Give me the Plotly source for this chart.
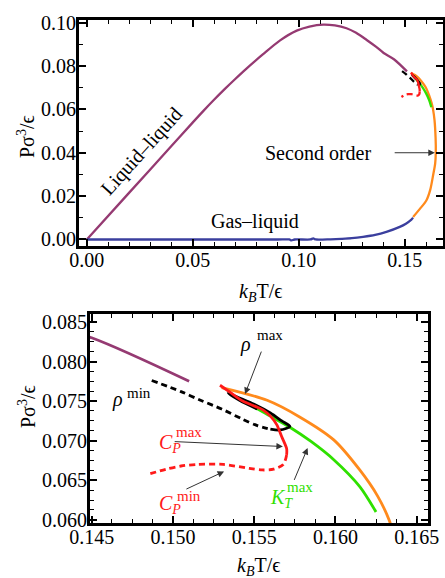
import plotly.graph_objects as go

# ---------------- data ----------------
ll_T = [0, 0.02, 0.04, 0.05, 0.055, 0.060, 0.065, 0.070, 0.0753, 0.083, 0.091, 0.099, 0.105,
        0.1115, 0.117, 0.1225, 0.127, 0.132, 0.1365, 0.140, 0.145, 0.151]
ll_P = [0, 0.0216, 0.0432, 0.0540, 0.0593, 0.0644, 0.0693, 0.0740, 0.0788, 0.0853, 0.0917, 0.0963, 0.0982,
        0.0991, 0.0987, 0.0974, 0.0953, 0.0920, 0.0888, 0.0860, 0.0830, 0.0775]

gl_T = [0, 0.05, 0.09, 0.0955, 0.0965, 0.098, 0.1055, 0.1068, 0.108, 0.115, 0.12, 0.125,
        0.1303, 0.136, 0.1413, 0.1476, 0.1505, 0.1531, 0.1539]
gl_P = [0, 0, 0, 0, -0.0004, 0, 0, 0.0005, 0, 0.0001, 0.0003, 0.0006,
        0.0012, 0.0021, 0.0035, 0.0058, 0.0073, 0.0092, 0.0100]

so_T = [0.1539, 0.1570, 0.1602, 0.1620, 0.1634, 0.1643, 0.1646, 0.1645, 0.1640, 0.1633,
        0.1626, 0.1615, 0.1599, 0.1578, 0.1558, 0.1530]
so_P = [0.0104, 0.0140, 0.0181, 0.0230, 0.0300, 0.0350, 0.0400, 0.0470, 0.0550, 0.0600,
        0.0630, 0.0663, 0.0701, 0.0730, 0.0751, 0.0767]

kt_T = [0.1537, 0.1548, 0.1560, 0.1572, 0.1585, 0.1599, 0.1615, 0.1625]
kt_P = [0.0757, 0.0745, 0.0731, 0.0717, 0.0699, 0.0676, 0.0642, 0.0610]

rmin_T = [0.1487, 0.1505, 0.1517, 0.1530, 0.1543, 0.1552, 0.1560]
rmin_P = [0.0776, 0.0762, 0.0751, 0.0740, 0.0727, 0.0719, 0.07145]

rmax_T = [0.1560, 0.1566, 0.1572, 0.1567, 0.1560, 0.1550, 0.1541, 0.1534, 0.1541, 0.1552]
rmax_P = [0.07145, 0.07135, 0.0718, 0.0725, 0.0735, 0.0746, 0.0754, 0.0760, 0.0751, 0.0740]

cpmax_T = [0.1529, 0.1536, 0.1543, 0.1551, 0.1556, 0.1560, 0.1564, 0.1567, 0.1570, 0.1570]
cpmax_P = [0.0770, 0.0760, 0.0750, 0.0743, 0.0738, 0.0731, 0.0720, 0.0705, 0.0690, 0.0682]

cpmin_T = [0.1570, 0.1568, 0.1562, 0.1555, 0.1547, 0.1531, 0.1515, 0.1505, 0.1496, 0.1484]
cpmin_P = [0.0682, 0.0670, 0.0664, 0.0663, 0.0665, 0.0670, 0.0670, 0.0668, 0.0664, 0.0657]

top_xticks = [0, 0.05, 0.10, 0.15]
top_xlabels = ["0.00", "0.05", "0.10", "0.15"]
top_yticks = [0, 0.02, 0.04, 0.06, 0.08, 0.10]
top_ylabels = ["0.00", "0.02", "0.04", "0.06", "0.08", "0.10"]
bot_xticks = [0.145, 0.150, 0.155, 0.160, 0.165]
bot_xlabels = ["0.145", "0.150", "0.155", "0.160", "0.165"]
bot_yticks = [0.060, 0.065, 0.070, 0.075, 0.080, 0.085]
bot_ylabels = ["0.060", "0.065", "0.070", "0.075", "0.080", "0.085"]

PURPLE = "#953a72"
BLUE = "#3b3f9e"
ORANGE = "#ff8a1c"
GREEN = "#2fe000"
RED = "#ff1a1a"
BLACK = "#000000"
FONT = "Liberation Serif"

fig = go.Figure()

def add_curves(xa, ya, w):
    spec = [
        (ll_T, ll_P, PURPLE, "solid"),
        (gl_T, gl_P, BLUE, "solid"),
        (so_T, so_P, ORANGE, "solid"),
        (kt_T, kt_P, GREEN, "solid"),
        (rmin_T, rmin_P, BLACK, "6px,4px"),
        (rmax_T, rmax_P, BLACK, "solid"),
        (cpmax_T, cpmax_P, RED, "solid"),
        (cpmin_T, cpmin_P, RED, "6px,4px"),
    ]
    for t, p, c, d in spec:
        fig.add_trace(go.Scatter(x=t, y=p, mode="lines", xaxis=xa, yaxis=ya,
                                 line=dict(color=c, width=w, dash=d, shape="spline",
                                           smoothing=0.8),
                                 showlegend=False, hoverinfo="skip"))

add_curves("x", "y", 2.3)
add_curves("x2", "y2", 2.8)

W, H = 445, 578

def ax_common(tv, tt, minor_dt, minor_t0, standoff):
    return dict(
        tickvals=tv, ticktext=tt, ticks="inside", ticklen=7, tickwidth=1.5,
        tickcolor="black", showline=True, linecolor="black", linewidth=3,
        mirror="allticks", showgrid=False, zeroline=False, automargin=False,
        ticklabelstandoff=standoff,
        tickfont=dict(family=FONT, size=20, color="black"),
        minor=dict(dtick=minor_dt, tick0=minor_t0, ticks="inside", ticklen=4,
                   tickwidth=1.2, tickcolor="black", showgrid=False),
    )

fig.update_layout(
    width=W, height=H, margin=dict(l=0, r=0, t=0, b=0, autoexpand=False),
    paper_bgcolor="white", plot_bgcolor="white",
    font=dict(family=FONT, size=20, color="black"),
    xaxis=dict(domain=[79 / W, 443 / W], range=[-0.0037, 0.168], anchor="y",
               **ax_common(top_xticks, top_xlabels, 0.01, 0, -6)),
    yaxis=dict(domain=[1 - 246 / H, 1 - 20 / H], range=[-0.003, 0.1012], anchor="x",
               **ax_common(top_yticks, top_ylabels, 0.01, 0, -4)),
    xaxis2=dict(domain=[90 / W, 428 / W], range=[0.1449, 0.1657], anchor="y2",
                **ax_common(bot_xticks, bot_xlabels, 0.00125, 0.145, -6)),
    yaxis2=dict(domain=[1 - 523 / H, 1 - 314 / H], range=[0.0596, 0.086], anchor="x2",
                **ax_common(bot_yticks, bot_ylabels, 0.00125, 0.06, -4)),
)

ann = []
# axis titles
xt = "<i>k</i><sub><i>B</i></sub>T/ϵ"
yt = "Pσ<sup>3</sup>/ϵ"
def pann(text, X, Y, angle=0):
    ann.append(dict(text=text, x=X / W, y=1 - Y / H, xref="paper", yref="paper",
                    xanchor="center", yanchor="middle", showarrow=False,
                    textangle=angle, font=dict(size=20)))

pann(xt, 260, 292)
pann(xt, 258, 566)
pann(yt, 26, 137, -90)
pann(yt, 27, 407, -90)

# top labels
def tann(text, x, y, angle=0):
    ann.append(dict(text=text, x=x, y=y, xref="x", yref="y", xanchor="center",
                    yanchor="middle", showarrow=False, textangle=angle,
                    font=dict(size=20)))

tann("Liquid–liquid", 0.0258, 0.0404, -47.8)
tann("Gas–liquid", 0.0792, 0.0081)
tann("Second order", 0.1091, 0.0397)
ann.append(dict(text="", x=0.16415, y=0.040, ax=0.1445, ay=0.040, xref="x", yref="y",
                axref="x", ayref="y", showarrow=True, arrowhead=2, arrowsize=1.3,
                arrowwidth=1, arrowcolor="#333333"))

# bottom labels
def lab(text, x, y, color, size=20):
    ann.append(dict(text=text, x=x, y=y, xref="x2", yref="y2", xanchor="left",
                    yanchor="middle", showarrow=False, font=dict(size=size, color=color)))

lab("<i>ρ</i>", 0.15401, 0.0822, BLACK)
lab("max", 0.15506, 0.08332, BLACK, 15)
lab("<i>ρ</i>", 0.14611, 0.0752, BLACK)
lab("min", 0.14704, 0.07608, BLACK, 15)
lab("<i>C</i><sub><i>P</i></sub>", 0.14901, 0.0697, RED)
lab("max", 0.15006, 0.07111, RED, 15)
lab("<i>C</i><sub><i>P</i></sub>", 0.14901, 0.0620, RED)
lab("min", 0.15012, 0.06305, RED, 15)
lab("<i>K</i><sub><i>T</i></sub>", 0.15586, 0.0627, GREEN)
lab("max", 0.15691, 0.06412, GREEN, 15)

def arrow(hx, hy, tx, ty):
    ann.append(dict(text="", x=hx, y=hy, ax=tx, ay=ty, xref="x2", yref="y2",
                    axref="x2", ayref="y2", showarrow=True, arrowhead=2, arrowsize=1.3,
                    arrowwidth=1, arrowcolor="#333333"))

arrow(0.15444, 0.07589, 0.15548, 0.08144)
arrow(0.15677, 0.06926, 0.15002, 0.06989)
arrow(0.15315, 0.06611, 0.15074, 0.0638)
arrow(0.15829, 0.06906, 0.15743, 0.06485)

fig.update_layout(annotations=ann)
fig.write_html("out.html", config={"displayModeBar": False},
               post_script="document.body.style.margin='0';document.body.style.overflow='hidden';")
